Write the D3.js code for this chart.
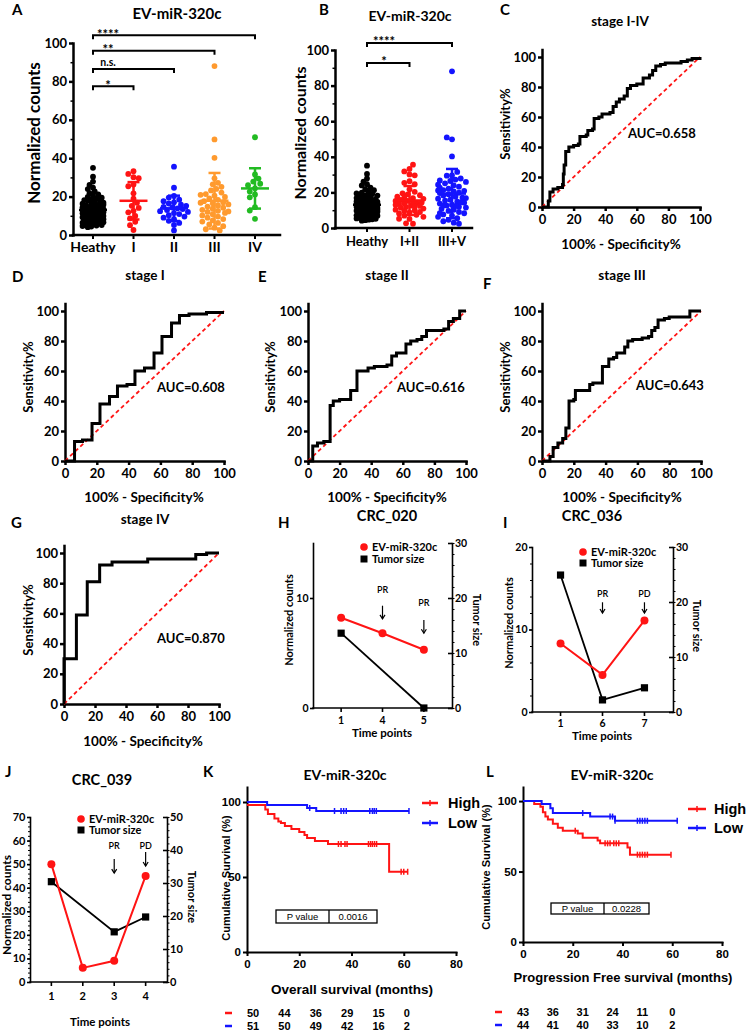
<!DOCTYPE html>
<html>
<head>
<meta charset="utf-8">
<script src="https://cdn.jsdelivr.net/npm/d3@7/dist/d3.min.js"></script>
<style>
html,body{margin:0;padding:0;background:#fff;}
svg{display:block;}
</style>
</head>
<body>
<svg id="fig" width="749" height="1031" xmlns="http://www.w3.org/2000/svg"></svg>
<script>
// ================= DATA =================
const scatterCats = ["Heathy", "I", "II", "III", "IV"];
const pooledCats = ["Heathy", "I+II", "III+V"];
const scatterTicks = [0, 20, 40, 60, 80, 100];
const healthyCounts = [35.0, 30.4, 27.8, 26.1, 24.6, 23.9, 22.7, 21.8, 21.2, 20.6, 19.9, 19.4, 19.1, 18.6, 18.2, 17.9, 17.4, 17.1, 16.8, 16.3, 16.1, 15.7, 15.4, 15.2, 14.9, 14.6, 14.4, 14.1, 13.9, 13.6, 13.4, 13.2, 12.9, 12.7, 12.6, 12.3, 12.1, 11.9, 11.8, 11.6, 11.3, 11.2, 10.9, 10.8, 10.6, 10.3, 10.2, 9.9, 9.7, 9.6, 9.3, 9.1, 8.9, 8.7, 8.4, 8.2, 8.1, 7.8, 7.6, 7.3, 7.1, 6.9, 6.6, 6.4, 6.2, 5.9, 5.7, 5.4, 5.2, 4.9, 4.7, 4.4, 4.1, 12.4, 11.1, 10.4, 13.1, 9.4, 14.2, 8.6, 12.8, 11.4, 10.1, 15.8];
const stageICounts = [33.2, 31.8, 30.1, 29.6, 26.3, 25.4, 21.7, 18.9, 16.8, 15.2, 14.1, 12.6, 11.8, 9.9, 8.7, 6.9, 5.1, 2.6];
const stageIICounts = [35.6, 24.6, 20.3, 19.5, 18.4, 17.6, 17.0, 16.4, 15.8, 15.2, 14.7, 14.3, 13.9, 13.5, 13.0, 12.4, 12.0, 11.4, 10.9, 10.3, 9.6, 9.0, 8.2, 7.4, 6.3, 5.2, 2.4];
const stageIIICounts = [88.0, 49.8, 40.2, 29.5, 27.2, 26.4, 25.1, 24.0, 23.2, 22.1, 21.3, 20.5, 19.8, 19.0, 18.3, 17.6, 17.1, 16.5, 15.9, 15.4, 14.8, 14.2, 13.7, 13.1, 12.6, 12.0, 11.5, 10.8, 10.2, 9.6, 9.0, 8.3, 7.6, 7.0, 6.3, 5.5, 4.6, 3.8, 3.0, 2.4, 12.3, 16.8, 20.9];
const stageIVCounts = [50.9, 31.5, 29.4, 27.8, 26.7, 25.9, 24.3, 22.6, 21.1, 19.6, 14.5, 12.7, 8.4];
// significance brackets: [from, to, label, level]
const aBrackets = [["Heathy", "IV", "****", 104], ["Heathy", "III", "**", 96], ["Heathy", "II", "n.s.", 86.5], ["Heathy", "I", "*", 77.5]];
const bBrackets = [["Heathy", "III+V", "****", 104], ["Heathy", "I+II", "*", 92.7]];

// ROC curves (100% - specificity, sensitivity)
const rocTicks = [0, 20, 40, 60, 80, 100];
const rocAllFpr = [0, 4, 5, 7, 10, 13, 13.5, 14, 15, 17, 20, 23, 24, 28, 29, 32, 33, 36, 38, 43, 45, 47, 49, 52, 54, 56, 60, 64, 66, 68, 70, 72, 75, 78, 82, 88, 92, 95, 100];
const rocAllTpr = [0, 4, 10, 12, 13, 15, 22, 28, 37, 40, 41, 42, 47, 48, 51, 52, 59, 60, 62, 63, 67, 70, 72, 74, 79, 81, 82, 86, 86, 88, 91, 94, 95, 96, 96, 97, 98, 99, 100];
const rocIFpr = [0, 6, 11, 17, 22, 28, 33, 39, 44, 50, 56, 61, 67, 72, 78, 89, 100];
const rocITpr = [0, 13, 14, 25, 38, 43, 50, 51, 60, 62, 72, 83, 92, 97, 98, 99, 99];
const rocIIFpr = [0, 3, 6, 10, 14, 16, 20, 27, 31, 38, 42, 50, 53, 56, 62, 65, 69, 72, 75, 86, 89, 92, 96, 100];
const rocIITpr = [0, 10, 12, 13, 37, 40, 41, 47, 60, 62, 63, 64, 70, 72, 78, 80, 81, 83, 87, 88, 93, 95, 100, 100];
const rocIIIFpr = [0, 5, 7, 10, 13, 15, 17, 20, 21, 30, 32, 38, 42, 45, 47, 52, 54, 57, 63, 67, 69, 71, 73, 77, 80, 93, 100];
const rocIIITpr = [0, 3, 9, 12, 15, 22, 40, 41, 47, 51, 52, 63, 68, 69, 72, 76, 80, 81, 82, 83, 87, 89, 94, 95, 96, 100, 100];
const rocIVFpr = [0, 0, 8, 15, 23, 31, 54, 85, 92, 100];
const rocIVTpr = [0, 30, 59, 81, 92, 94, 96, 99, 100, 100];

// follow-up cases
const hTimes = ["1", "4", "5"];
const hMir = [8.2, 6.8, 5.3];
const hTumor = [13.6, null, 0];
const hNotes = [["4", "PR", 10.45, 9.3, 8.1], ["5", "PR", 9.27, 8.0, 6.8]];
const iTimes = ["1", "6", "7"];
const iMir = [8.3, 4.5, 11.1];
const iTumor = [24.9, 2.2, 4.4];
const iNotes = [["6", "PR", 14.0, 13.3, 12.0], ["7", "PD", 14.0, 13.3, 12.0]];
const jTimes = ["1", "2", "3", "4"];
const jMir = [50, 6, 9, 45];
const jTumor = [30.4, null, 15.2, 19.7];
const jNotes = [["3", "PR", 56.4, 52.2, 46.2], ["4", "PD", 56.4, 55.2, 49.2]];

// Kaplan-Meier
const kmXTicks = [0, 20, 40, 60, 80];
const kmYTicks = [0, 50, 100];
const riskTimes = [0, 12, 24, 36, 48, 60];
const osHighT = [0, 7, 8, 10.5, 12, 13, 14.5, 17, 20, 22, 23, 26, 31, 54.4];
const osHighS = [98, 95, 92, 89, 87, 86, 84, 82, 80, 78, 76, 74, 72, 53.5];
const osHighEnd = 61.5;
const osHighCens = [35, 36, 37.5, 38.3, 46.5, 47.3, 48, 48.8, 49.6, 59, 60, 61.5];
const osLowT = [0, 7.7, 23, 26.5];
const osLowS = [100, 98, 96, 94];
const osLowEnd = 62;
const osLowCens = [24, 33.5, 36, 37, 38, 47, 48, 48.7, 49.5, 62];
const osRiskHigh = [50, 44, 36, 29, 15, 0];
const osRiskLow = [51, 50, 49, 42, 16, 2];
const pfsHighT = [0, 4.5, 7, 8, 9, 10, 12, 14, 16, 22, 24, 30, 31, 42, 43];
const pfsHighS = [100, 98, 96, 92, 89, 87, 84, 81, 79, 77, 74, 72, 70, 67, 62];
const pfsHighEnd = 59.5;
const pfsHighCens = [21, 33, 34, 35, 36.5, 37.5, 38.5, 46, 47, 48, 49, 50, 59.5];
const pfsLowT = [0, 7.5, 11, 12, 27, 37];
const pfsLowS = [100, 98, 95, 91.5, 89, 86];
const pfsLowEnd = 62;
const pfsLowCens = [24, 35, 36, 37, 46, 47, 48, 49, 50, 62];
const pfsRiskHigh = [43, 36, 31, 24, 11, 0];
const pfsRiskLow = [44, 41, 40, 33, 10, 2];

// ================= STYLE =================
const LATO = "Lato, 'Open Sans', sans-serif";
const ARIAL = "'Liberation Sans', Arial, sans-serif";
const RED = "#ff1414", BLUE = "#1414ff", ORANGE = "#ff9a2e", GREEN = "#22bb22";
const svg = d3.select("#fig");

function T(x, y, s, o = {}) {
  return svg.append("text").attr("x", x).attr("y", y).text(s)
    .attr("font-family", o.font || LATO).attr("font-weight", o.w || 700)
    .attr("font-size", o.size || 12).attr("text-anchor", o.anchor || "start")
    .attr("fill", o.fill || "#000");
}
function RT(x, y, s, rot, o = {}) {
  return svg.append("text").attr("transform", `translate(${x},${y}) rotate(${rot})`)
    .attr("text-anchor", "middle").attr("dominant-baseline", "central").text(s)
    .attr("font-family", o.font || LATO).attr("font-weight", o.w || 700)
    .attr("font-size", o.size || 12).attr("fill", "#000");
}
function styleAxis(g, sw, fs, font) {
  g.attr("font-family", null).attr("font-size", null);
  g.select(".domain").attr("stroke", "#000").attr("stroke-width", sw).attr("stroke-linecap", "square");
  g.selectAll(".tick line").attr("stroke", "#000").attr("stroke-width", sw);
  g.selectAll(".tick text").attr("fill", "#000").attr("font-family", font || LATO)
    .attr("font-weight", 700).attr("font-size", fs);
}
function hline(x1, x2, y, sw, col) {
  svg.append("line").attr("x1", x1).attr("x2", x2).attr("y1", y).attr("y2", y)
    .attr("stroke", col || "#000").attr("stroke-width", sw).attr("stroke-linecap", "square");
}

// ================= SCATTER (A, B) =================
function swarm(vals, y, r, maxW, minD) {
  const placed = [];
  const step = r * 0.6;
  vals.forEach((v, idx) => {
    const py = y(v);
    let best = 0, bestD = -1, done = false;
    for (let k = 0; k * step <= maxW && !done; k++) {
      const cands = k === 0 ? [0] : (idx % 2 ? [-k * step, k * step] : [k * step, -k * step]);
      for (const dx of cands) {
        let md = Infinity;
        for (const p of placed) { const d = Math.hypot(p.dx - dx, p.y - py); if (d < md) md = d; }
        if (md >= minD) { best = dx; done = true; break; }
        if (md > bestD) { bestD = md; best = dx; }
      }
    }
    placed.push({ v, y: py, dx: best });
  });
  return placed;
}

function scatterPanel(o) {
  const y = d3.scaleLinear([0, 100], [o.y0, o.y100]);
  const x = d3.scalePoint(o.cats, [o.c0, o.c1]);
  const ga = svg.append("g").attr("transform", `translate(${o.ax},0)`)
    .call(d3.axisLeft(y).tickValues(scatterTicks).tickSize(4).tickPadding(2).tickSizeOuter(0));
  styleAxis(ga, 2.5, o.tickFs);
  const gm = svg.append("g").attr("transform", `translate(${o.ax},0)`)
    .call(d3.axisLeft(y).tickValues([10, 30, 50, 70, 90]).tickSize(2.5).tickSizeOuter(0).tickFormat(""));
  gm.select(".domain").remove();
  gm.selectAll("line").attr("stroke", "#000").attr("stroke-width", 1.5);
  // x axis
  hline(o.ax, o.axEnd, o.y0, 2.5);
  o.cats.forEach(c => {
    svg.append("line").attr("x1", x(c)).attr("x2", x(c)).attr("y1", o.y0).attr("y2", o.y0 + 4)
      .attr("stroke", "#000").attr("stroke-width", 2);
    T(x(c), o.catY, c, { size: o.catFs, anchor: "middle" });
  });
  // dots
  o.groups.forEach((vals, i) => {
    const c = o.cats[i];
    const dense = vals.length > 60;
    const pts = swarm(vals, y, o.r, dense ? o.maxW - 2 : o.maxW, dense ? o.r * 1.35 : o.r * 1.8);
    svg.append("g").selectAll("circle").data(pts).join("circle")
      .attr("cx", d => x(c) + d.dx).attr("cy", d => d.y).attr("r", o.r).attr("fill", o.colors[i]);
  });
  // mean +- SD
  o.groups.forEach((vals, i) => {
    const c = o.cats[i], cx = x(c);
    const m = d3.mean(vals), sd = d3.deviation(vals);
    const g = svg.append("g").attr("stroke", o.colors[i]).attr("stroke-width", 2.5);
    g.append("line").attr("x1", cx).attr("x2", cx).attr("y1", y(Math.max(0, m - sd))).attr("y2", y(m + sd));
    g.append("line").attr("x1", cx - 6).attr("x2", cx + 6).attr("y1", y(m + sd)).attr("y2", y(m + sd));
    g.append("line").attr("x1", cx - 6).attr("x2", cx + 6).attr("y1", y(Math.max(0, m - sd))).attr("y2", y(Math.max(0, m - sd)));
    g.append("line").attr("x1", cx - 14).attr("x2", cx + 14).attr("y1", y(m)).attr("y2", y(m));
  });
  // brackets
  o.brackets.forEach(b => {
    const x1 = x(b[0]), x2 = x(b[1]), yb = y(b[3]);
    svg.append("path").attr("d", `M${x1},${yb + 4}V${yb}H${x2}V${yb + 4}`)
      .attr("fill", "none").attr("stroke", "#000").attr("stroke-width", 2);
    const star = b[2] !== "n.s.";
    T(x1 + o.labOff, star ? yb + 3.5 : yb - 2.5, b[2], { size: star ? 13 : 10.5, anchor: "middle" });
  });
  T(o.titleX, o.titleY, o.title, { size: o.titleFs, anchor: "middle" });
  RT(o.ylabX, o.ylabY, "Normalized counts", -90, { size: o.ylabFs });
  T(o.letterX, o.letterY, o.letter, { size: 15 });
}

scatterPanel({
  cats: scatterCats, groups: [healthyCounts, stageICounts, stageIICounts, stageIIICounts, stageIVCounts],
  colors: ["#000", RED, BLUE, ORANGE, GREEN],
  ax: 73, axEnd: 280, c0: 93, c1: 255, y0: 235, y100: 43, r: 2.9, maxW: 14,
  tickFs: 13, catFs: 14, catY: 252, brackets: aBrackets, labOff: 15,
  title: "EV-miR-320c", titleX: 177, titleY: 19, titleFs: 15,
  ylabX: 33, ylabY: 133, ylabFs: 17, letter: "A", letterX: 12, letterY: 15
});
scatterPanel({
  cats: pooledCats, groups: [healthyCounts, stageICounts.concat(stageIICounts), stageIIICounts.concat(stageIVCounts)],
  colors: ["#000", RED, BLUE],
  ax: 335, axEnd: 472, c0: 367, c1: 452, y0: 228, y100: 50, r: 2.9, maxW: 14,
  tickFs: 13, catFs: 13, catY: 246, brackets: bBrackets, labOff: 17,
  title: "EV-miR-320c", titleX: 410, titleY: 21, titleFs: 14,
  ylabX: 299, ylabY: 133, ylabFs: 16, letter: "B", letterX: 319, letterY: 15
});

// ================= ROC (C-G) =================
function rocPanel(o) {
  const x = d3.scaleLinear([0, 100], [o.x0, o.x1]);
  const y = d3.scaleLinear([0, 100], [o.y0, o.y1]);
  const yExt = d3.scaleLinear([0, 105], [o.y0, y(105)]);
  const gy = svg.append("g").attr("transform", `translate(${o.x0},0)`)
    .call(d3.axisLeft(yExt).tickValues(rocTicks).tickSize(4).tickPadding(2).tickSizeOuter(0));
  styleAxis(gy, 2.5, 13);
  const gx = svg.append("g").attr("transform", `translate(0,${o.y0})`)
    .call(d3.axisBottom(x).tickValues(rocTicks).tickSize(4).tickPadding(4).tickSizeOuter(0));
  styleAxis(gx, 2.5, 13);
  svg.append("line").attr("x1", x(0)).attr("y1", y(0)).attr("x2", x(100)).attr("y2", y(100))
    .attr("stroke", RED).attr("stroke-width", 1.8).attr("stroke-dasharray", "4,3");
  const line = d3.line().x(d => x(d[0])).y(d => y(d[1])).curve(d3.curveStepAfter);
  svg.append("path").attr("d", line(d3.zip(o.fpr, o.tpr))).attr("fill", "none")
    .attr("stroke", "#000").attr("stroke-width", 3).attr("stroke-linejoin", "miter");
  T(o.titleX, o.titleY, o.title, { size: 13.5, anchor: "middle" });
  T(o.aucX, o.aucY, o.auc, { size: 13 });
  T(o.xlabX, o.xlabY, "100% - Specificity%", { size: 13.5, anchor: "middle" });
  RT(o.ylabX, o.ylabY, "Sensitivity%", -90, { size: 13 });
  T(o.letterX, o.letterY, o.letter, { size: 15 });
}
rocPanel({ fpr: rocAllFpr, tpr: rocAllTpr, x0: 542, x1: 700, y0: 207, y1: 57,
  title: "stage I-IV", titleX: 620, titleY: 26, auc: "AUC=0.658", aucX: 628, aucY: 138,
  xlabX: 621, xlabY: 249, ylabX: 505, ylabY: 124, letter: "C", letterX: 500, letterY: 15 });
rocPanel({ fpr: rocIFpr, tpr: rocITpr, x0: 65, x1: 224, y0: 461, y1: 311,
  title: "stage I", titleX: 145, titleY: 280, auc: "AUC=0.608", aucX: 157, aucY: 392,
  xlabX: 144, xlabY: 502, ylabX: 28, ylabY: 377, letter: "D", letterX: 12, letterY: 282 });
rocPanel({ fpr: rocIIFpr, tpr: rocIITpr, x0: 308, x1: 466, y0: 461, y1: 311,
  title: "stage II", titleX: 387, titleY: 280, auc: "AUC=0.616", aucX: 397, aucY: 392,
  xlabX: 387, xlabY: 502, ylabX: 270, ylabY: 377, letter: "E", letterX: 258, letterY: 282 });
rocPanel({ fpr: rocIIIFpr, tpr: rocIIITpr, x0: 542, x1: 701, y0: 461, y1: 311,
  title: "stage III", titleX: 622, titleY: 280, auc: "AUC=0.643", aucX: 636, aucY: 390,
  xlabX: 622, xlabY: 502, ylabX: 505, ylabY: 377, letter: "F", letterX: 483, letterY: 289 });
rocPanel({ fpr: rocIVFpr, tpr: rocIVTpr, x0: 64, x1: 219, y0: 704, y1: 553,
  title: "stage IV", titleX: 145, titleY: 524, auc: "AUC=0.870", aucX: 157, aucY: 643,
  xlabX: 143, xlabY: 746, ylabX: 28, ylabY: 620, letter: "G", letterX: 11, letterY: 528 });

// ================= FOLLOW-UP (H, I, J) =================
function timePanel(o) {
  const x = d3.scalePoint(o.times, [o.xL, o.xR]).padding(0.68);
  const yl = d3.scaleLinear([0, o.lMax], [o.y0, o.yTop]);
  const yr = d3.scaleLinear([0, o.rMax], [o.y0, o.yTop]);
  const gl = svg.append("g").attr("transform", `translate(${o.xL},0)`)
    .call(d3.axisLeft(yl).tickValues(o.lTicks).tickSize(3).tickPadding(1.5).tickSizeOuter(0));
  styleAxis(gl, 1.6, o.fs);
  if (o.lMinor) {
    const g = svg.append("g").attr("transform", `translate(${o.xL},0)`)
      .call(d3.axisLeft(yl).tickValues(o.lMinor).tickSize(2).tickSizeOuter(0).tickFormat(""));
    g.select(".domain").remove(); g.selectAll("line").attr("stroke", "#000").attr("stroke-width", 1);
  }
  const gr = svg.append("g").attr("transform", `translate(${o.xR},0)`)
    .call(d3.axisRight(yr).tickValues(o.rTicks).tickSize(-4).tickPadding(3).tickSizeOuter(0));
  styleAxis(gr, 1.6, o.fs);
  const gr2 = svg.append("g").attr("transform", `translate(${o.xR},0)`)
    .call(d3.axisRight(yr).tickValues(o.rMinor).tickSize(2.5).tickSizeOuter(0).tickFormat(""));
  gr2.select(".domain").remove(); gr2.selectAll("line").attr("stroke", "#000").attr("stroke-width", 1);
  hline(o.xL, o.xR, o.y0, 1.6);
  o.times.forEach(t => {
    svg.append("line").attr("x1", x(t)).attr("x2", x(t)).attr("y1", o.y0).attr("y2", o.y0 + 4)
      .attr("stroke", "#000").attr("stroke-width", 1.6);
    T(x(t), o.xTickY, t, { size: o.fs, anchor: "middle" });
  });
  const tum = o.times.map((t, i) => [t, o.tumor[i]]).filter(d => d[1] != null);
  const mir = o.times.map((t, i) => [t, o.mir[i]]).filter(d => d[1] != null);
  svg.append("path").attr("d", d3.line().x(d => x(d[0])).y(d => yr(d[1]))(tum))
    .attr("fill", "none").attr("stroke", "#000").attr("stroke-width", 1.8);
  svg.append("path").attr("d", d3.line().x(d => x(d[0])).y(d => yl(d[1]))(mir))
    .attr("fill", "none").attr("stroke", RED).attr("stroke-width", 2);
  svg.append("g").selectAll("rect").data(tum).join("rect")
    .attr("x", d => x(d[0]) - 3.6).attr("y", d => yr(d[1]) - 3.6).attr("width", 7.2).attr("height", 7.2).attr("fill", "#000");
  svg.append("g").selectAll("circle").data(mir).join("circle")
    .attr("cx", d => x(d[0])).attr("cy", d => yl(d[1])).attr("r", 4).attr("fill", RED);
  // notes
  o.notes.forEach(n => {
    const nx = x(n[0]);
    T(nx, yl(n[2]), n[1], { size: 9, anchor: "middle", w: 600 });
    const yt = yl(n[3]), yb = yl(n[4]);
    svg.append("line").attr("x1", nx).attr("x2", nx).attr("y1", yt).attr("y2", yb).attr("stroke", "#000").attr("stroke-width", 1.2);
    svg.append("path").attr("d", `M${nx - 2.5},${yb - 4}L${nx},${yb}L${nx + 2.5},${yb - 4}`).attr("fill", "none").attr("stroke", "#000").attr("stroke-width", 1.2);
  });
  // legend
  svg.append("circle").attr("cx", o.legX).attr("cy", o.leg1 - 4).attr("r", 3.8).attr("fill", RED);
  svg.append("rect").attr("x", o.legX - 3.5).attr("y", o.leg2 - 7.5).attr("width", 7).attr("height", 7).attr("fill", "#000");
  T(o.legX + 8, o.leg1, "EV-miR-320c", { size: 11 });
  T(o.legX + 8, o.leg2, "Tumor size", { size: 11 });
  T(o.titleX, o.titleY, o.title, { size: 14.5, anchor: "middle" });
  T(o.xlabX, o.xlabY, "Time points", { size: 11.5, anchor: "middle" });
  RT(o.ylX, o.ylY, "Normalized counts", -90, { size: o.labFs });
  RT(o.yrX, o.yrY, "Tumor size", 90, { size: 11 });
  T(o.letterX, o.letterY, o.letter, { size: 15 });
}
timePanel({ times: hTimes, mir: hMir, tumor: hTumor, notes: hNotes,
  xL: 313, xR: 452, y0: 708, yTop: 543, lMax: 15, rMax: 30, lTicks: [0, 10], lMinor: null,
  rTicks: [0, 10, 20, 30], rMinor: d3.range(0, 31, 2), fs: 10.5, xTickY: 724,
  legX: 364, leg1: 551, leg2: 563, title: "CRC_020", titleX: 387, titleY: 521,
  xlabX: 382, xlabY: 737, ylX: 288, ylY: 620, yrX: 477, yrY: 620, labFs: 11,
  letter: "H", letterX: 278, letterY: 528 });
timePanel({ times: iTimes, mir: iMir, tumor: iTumor, notes: iNotes,
  xL: 532, xR: 673, y0: 712, yTop: 547, lMax: 20, rMax: 30, lTicks: [0, 10, 20], lMinor: d3.range(0, 21, 2),
  rTicks: [0, 10, 20, 30], rMinor: d3.range(0, 31, 2), fs: 10.5, xTickY: 727,
  legX: 583, leg1: 556, leg2: 567, title: "CRC_036", titleX: 592, titleY: 521,
  xlabX: 602, xlabY: 740, ylX: 508, ylY: 623, yrX: 697, yrY: 626, labFs: 11,
  letter: "I", letterX: 503, letterY: 528 });
timePanel({ times: jTimes, mir: jMir, tumor: jTumor, notes: jNotes,
  xL: 30, xR: 167, y0: 982, yTop: 817, lMax: 70, rMax: 50, lTicks: d3.range(0, 71, 10), lMinor: d3.range(0, 71, 2),
  rTicks: d3.range(0, 51, 10), rMinor: d3.range(0, 51, 2), fs: 11, xTickY: 1000,
  legX: 81, leg1: 823, leg2: 834, title: "CRC_039", titleX: 102, titleY: 785,
  xlabX: 100, xlabY: 1026, ylX: 6, ylY: 905, yrX: 192, yrY: 897, labFs: 12,
  letter: "J", letterX: 5, letterY: 777 });

// ================= KAPLAN-MEIER (K, L) =================
function kmPanel(o) {
  const x = d3.scaleLinear([0, 80], [o.x0, o.x1]);
  const y = d3.scaleLinear([0, 110], [o.y0, o.yTop]);
  const gy = svg.append("g").attr("transform", `translate(${o.x0},0)`)
    .call(d3.axisLeft(y).tickValues(kmYTicks).tickSize(4).tickPadding(2).tickSizeOuter(0));
  styleAxis(gy, 2, 11.5, ARIAL);
  const gx = svg.append("g").attr("transform", `translate(0,${o.y0})`)
    .call(d3.axisBottom(x).tickValues(kmXTicks).tickSize(4).tickPadding(4).tickSizeOuter(0));
  styleAxis(gx, 2, 11.5, ARIAL);
  const line = d3.line().x(d => x(d[0])).y(d => y(d[1])).curve(d3.curveStepAfter);
  o.series.forEach(s => {
    const pts = d3.zip(s.t, s.s).concat([[s.end, s.s[s.s.length - 1]]]);
    svg.append("path").attr("d", line(pts)).attr("fill", "none").attr("stroke", s.color).attr("stroke-width", 2);
    const sv = c => s.s[d3.bisectRight(s.t, c) - 1];
    svg.append("g").selectAll("line").data(s.cens).join("line")
      .attr("x1", c => x(c)).attr("x2", c => x(c)).attr("y1", c => y(sv(c)) - 3).attr("y2", c => y(sv(c)) + 3)
      .attr("stroke", s.color).attr("stroke-width", 1.5);
  });
  // legend
  o.series.forEach((s, i) => {
    const ly = o.legY[i];
    svg.append("line").attr("x1", o.legX).attr("x2", o.legX + o.legW).attr("y1", ly).attr("y2", ly).attr("stroke", s.color).attr("stroke-width", 2.5);
    svg.append("line").attr("x1", o.legX + o.legW / 2).attr("x2", o.legX + o.legW / 2).attr("y1", ly - 3).attr("y2", ly + 3).attr("stroke", s.color).attr("stroke-width", 1.5);
    T(o.legX + o.legW + o.legGap, ly + o.legFs * 0.36, s.name, { size: o.legFs, font: ARIAL });
  });
  // p-value box
  const b = o.box;
  svg.append("rect").attr("x", b[0]).attr("y", b[2]).attr("width", b[1] - b[0]).attr("height", b[3] - b[2])
    .attr("fill", "#fff").attr("stroke", "#000").attr("stroke-width", 1.3);
  svg.append("line").attr("x1", b[4]).attr("x2", b[4]).attr("y1", b[2]).attr("y2", b[3]).attr("stroke", "#000").attr("stroke-width", 1.3);
  const tb = (b[2] + b[3]) / 2 + 3.5;
  T((b[0] + b[4]) / 2, tb, "P value", { size: 9.5, font: ARIAL, w: 400, anchor: "middle" });
  T((b[4] + b[1]) / 2, tb, o.p, { size: 9.5, font: ARIAL, w: 400, anchor: "middle" });
  // risk table
  o.series.forEach((s, i) => {
    const ry = o.riskY[i];
    svg.append("line").attr("x1", o.dashX).attr("x2", o.dashX + 7).attr("y1", ry - 4).attr("y2", ry - 4).attr("stroke", s.color).attr("stroke-width", 2.5);
    riskTimes.forEach((t, j) => T(x(t) + o.riskOff, ry, s.risk[j], { size: 11, font: ARIAL, anchor: o.riskAnchor }));
  });
  T(o.titleX, o.titleY, "EV-miR-320c", { size: 14, anchor: "middle" });
  T(o.xlabX, o.xlabY, o.xlab, { size: o.xlabFs, font: ARIAL, anchor: "middle" });
  RT(o.ylabX, o.ylabY, "Cumulative Survival (%)", -90, { size: 11, font: ARIAL });
  T(o.letterX, o.letterY, o.letter, { size: 15 });
}
kmPanel({ x0: 247, x1: 456, y0: 952, yTop: 787,
  series: [
    { name: "High", color: RED, t: osHighT, s: osHighS, end: osHighEnd, cens: osHighCens, risk: osRiskHigh },
    { name: "Low", color: BLUE, t: osLowT, s: osLowS, end: osLowEnd, cens: osLowCens, risk: osRiskLow }],
  legX: 422, legW: 16, legGap: 10, legY: [803, 823], legFs: 14.5,
  box: [276, 377, 910, 923, 329], p: "0.0016",
  riskY: [1017, 1030], dashX: 225, riskOff: 0, riskAnchor: "start",
  titleX: 345, titleY: 780, xlab: "Overall survival (months)", xlabX: 352, xlabY: 994, xlabFs: 13.5,
  ylabX: 226, ylabY: 878, letter: "K", letterX: 203, letterY: 777 });
kmPanel({ x0: 523, x1: 722, y0: 942, yTop: 787,
  series: [
    { name: "High", color: RED, t: pfsHighT, s: pfsHighS, end: pfsHighEnd, cens: pfsHighCens, risk: pfsRiskHigh },
    { name: "Low", color: BLUE, t: pfsLowT, s: pfsLowS, end: pfsLowEnd, cens: pfsLowCens, risk: pfsRiskLow }],
  legX: 688, legW: 18, legGap: 8, legY: [809, 828], legFs: 14.5,
  box: [551, 649, 903, 914, 604], p: "0.0228",
  riskY: [1016, 1029], dashX: 495, riskOff: 0, riskAnchor: "middle",
  titleX: 612, titleY: 780, xlab: "Progression Free survival (months)", xlabX: 623, xlabY: 982, xlabFs: 13,
  ylabX: 486, ylabY: 867, letter: "L", letterX: 486, letterY: 777 });
</script>
</body>
</html>
